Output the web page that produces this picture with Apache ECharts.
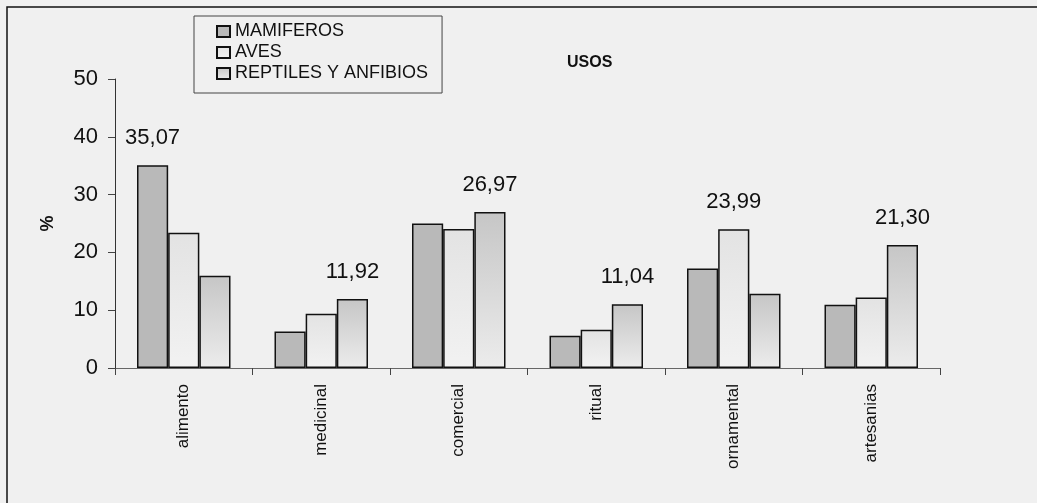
<!DOCTYPE html>
<html>
<head>
<meta charset="utf-8">
<script src="https://cdn.jsdelivr.net/npm/echarts@6/dist/echarts.min.js"></script>
<style>
html,body{margin:0;padding:0;background:#f0f0f0;}
#c{width:1037px;height:503px;}
</style>
</head>
<body>
<div id="c"></div>
<script>
var categories = ['alimento', 'medicinal', 'comercial', 'ritual', 'ornamental', 'artesanias'];
var seriesNames = ['MAMIFEROS', 'AVES', 'REPTILES Y ANFIBIOS'];
var mamiferos = [35.07, 6.3, 25.0, 5.6, 17.2, 10.95];
var aves = [23.4, 9.4, 24.05, 6.6, 23.99, 12.2];
var reptiles = [15.97, 11.92, 26.97, 11.04, 12.85, 21.30];
var yTicks = [0, 10, 20, 30, 40, 50];

var all = [mamiferos, aves, reptiles];
function isMax(si, ci) {
  var m = Math.max(mamiferos[ci], aves[ci], reptiles[ci]);
  return all[si][ci] === m;
}
function fmt(v) { return v.toFixed(2).replace('.', ','); }

var fills = [
  '#b9b9b9',
  new echarts.graphic.LinearGradient(0, 0, 0, 1, [{offset: 0, color: '#e3e3e3'}, {offset: 1, color: '#f2f2f2'}]),
  new echarts.graphic.LinearGradient(0, 0, 0, 1, [{offset: 0, color: '#c6c6c6'}, {offset: 1, color: '#ececec'}])
];

var series = all.map(function (arr, si) {
  return {
    name: seriesNames[si],
    type: 'bar',
    barGap: '0%',
    barCategoryGap: '32%',
    itemStyle: { color: fills[si], borderColor: '#111', borderWidth: 1.5 },
    label: {
      show: true,
      position: 'top',
      distance: 16,
      fontSize: 22,
      color: '#111',
      fontFamily: 'Liberation Sans, Arial, sans-serif',
      formatter: function (p) { return isMax(si, p.dataIndex) ? fmt(p.value) : ''; }
    },
    data: arr
  };
});

var chart = echarts.init(document.getElementById('c'), null, {renderer: 'canvas'});
chart.setOption({
  backgroundColor: '#f0f0f0',
  animation: false,
  textStyle: { fontFamily: 'Liberation Sans, Arial, sans-serif' },
  graphic: [{
    type: 'rect', shape: { x: 7, y: 7, width: 1100, height: 600 },
    style: { fill: 'none', stroke: '#111', lineWidth: 1.5 }, silent: true, z: -1
  }],
  title: {
    text: 'USOS', left: 562, top: 50,
    textStyle: { fontSize: 16, fontWeight: 'bold', color: '#111' }
  },
  legend: {
    orient: 'vertical', left: 194, top: 16,
    padding: [5, 14, 9, 22],
    itemGap: 0, itemWidth: 13, itemHeight: 11,
    borderColor: '#444', borderWidth: 1, backgroundColor: '#f0f0f0',
    icon: 'rect',
    textStyle: { fontSize: 18, lineHeight: 21, color: '#111' },
    data: seriesNames
  },
  grid: { left: 115, right: 97, top: 79, bottom: 135 },
  xAxis: {
    type: 'category', data: categories,
    axisLine: { lineStyle: { color: '#666', width: 1 } },
    axisTick: { show: true, length: 7, lineStyle: { color: '#444' } },
    axisLabel: { rotate: 90, margin: 16, fontSize: 17, color: '#111' }
  },
  yAxis: {
    type: 'value', min: 0, max: 50, interval: 10,
    name: '%', nameLocation: 'middle', nameGap: 58, nameRotate: 90,
    nameTextStyle: { fontSize: 18, fontWeight: 'bold', color: '#111' },
    axisLine: { show: true, lineStyle: { color: '#333', width: 1 } },
    axisTick: { show: true, length: 7, lineStyle: { color: '#444' } },
    axisLabel: { margin: 17, fontSize: 22, color: '#111',
      formatter: function (v) { return yTicks.indexOf(v) >= 0 ? String(v) : ''; } },
    splitLine: { show: false }
  },
  series: series
});
</script>
</body>
</html>
